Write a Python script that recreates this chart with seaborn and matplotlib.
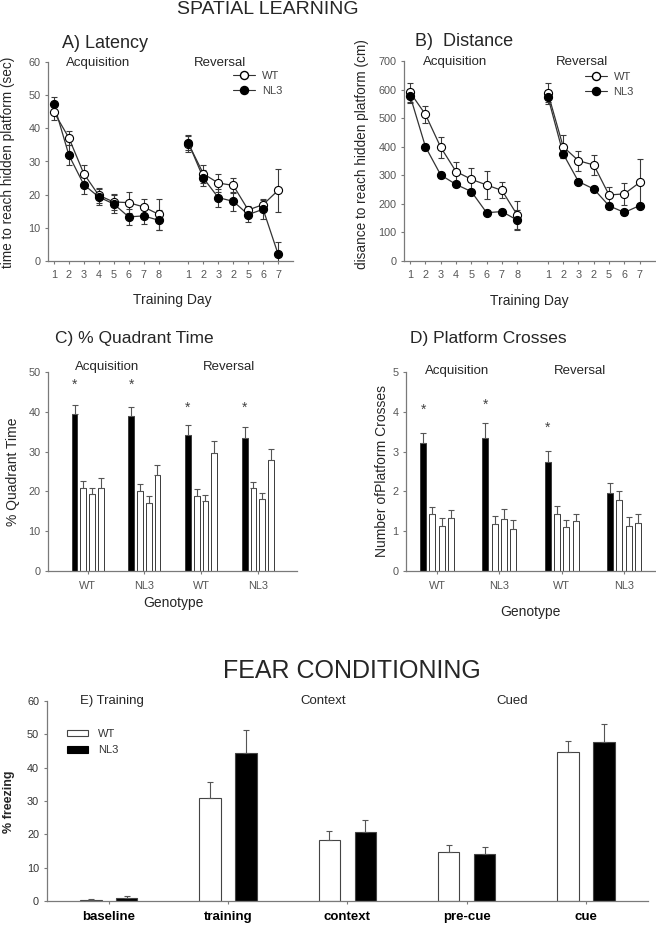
import numpy as np
import pandas as pd
import matplotlib
matplotlib.use("Agg")
import matplotlib.pyplot as plt
import seaborn as sns
from matplotlib.lines import Line2D
from matplotlib.patches import Patch

# ------------------------------------------------------------------ data
acq_days = [1, 2, 3, 4, 5, 6, 7, 8]
rev_days = [1, 2, 3, 4, 5, 6, 7]
acq_day_labels = ["1", "2", "3", "4", "5", "6", "7", "8"]
rev_day_labels = ["1", "2", "3", "2", "5", "6", "7"]  # as printed in the original

lat_wt_acq = [44.9, 37.1, 26.3, 19.8, 17.8, 17.6, 16.3, 14.1]
lat_wt_acq_err = [2.3, 2.0, 2.5, 2.2, 2.5, 3.2, 2.5, 4.7]
lat_nl3_acq = [47.2, 31.9, 23.0, 19.3, 17.2, 13.3, 13.6, 12.3]
lat_nl3_acq_err = [2.2, 3.0, 2.7, 2.5, 2.8, 2.3, 2.3, 3.0]
lat_wt_rev = [35.4, 26.3, 23.5, 22.8, 15.4, 17.0, 21.3]
lat_wt_rev_err = [2.5, 2.7, 2.6, 2.2, 1.2, 1.5, 6.5]
lat_nl3_rev = [35.6, 25.0, 19.1, 18.0, 14.0, 15.6, 2.1]
lat_nl3_rev_err = [2.2, 2.5, 2.7, 2.8, 2.2, 3.0, 3.6]

dist_wt_acq = [590, 513, 398, 313, 286, 266, 247, 161]
dist_wt_acq_err = [32, 30, 37, 35, 38, 49, 28, 50]
dist_nl3_acq = [578, 400, 301, 268, 243, 169, 173, 143]
dist_nl3_acq_err = [25, 10, 10, 10, 10, 8, 8, 35]
dist_wt_rev = [589, 400, 351, 336, 231, 235, 275]
dist_wt_rev_err = [33, 40, 35, 35, 28, 38, 83]
dist_nl3_rev = [575, 375, 278, 252, 193, 170, 194]
dist_nl3_rev_err = [25, 15, 10, 10, 10, 8, 10]

genotype_labels = ["WT", "NL3", "WT", "NL3"]

quad_target = [39.4, 38.9, 34.2, 33.5]
quad_target_err = [2.3, 2.4, 2.5, 2.6]
quad_other1 = [20.8, 20.0, 18.8, 20.8]
quad_other1_err = [1.9, 1.8, 1.7, 1.6]
quad_other2 = [19.3, 17.2, 17.7, 18.0]
quad_other2_err = [1.5, 1.6, 1.5, 1.7]
quad_other3 = [20.8, 24.0, 29.6, 27.9]
quad_other3_err = [2.5, 2.7, 3.1, 2.8]
quad_star_y = [46.7, 46.7, 41.0, 41.0]

cross_target = [3.21, 3.34, 2.73, 1.97]
cross_target_err = [0.26, 0.37, 0.28, 0.25]
cross_other1 = [1.44, 1.18, 1.42, 1.79]
cross_other1_err = [0.17, 0.20, 0.21, 0.22]
cross_other2 = [1.13, 1.30, 1.10, 1.13]
cross_other2_err = [0.19, 0.27, 0.19, 0.23]
cross_other3 = [1.32, 1.06, 1.25, 1.21]
cross_other3_err = [0.22, 0.23, 0.17, 0.21]
cross_star_y = [4.05, 4.17, 3.61]

fc_phases = ["baseline", "training", "context", "pre-cue", "cue"]
fc_wt = [0.2, 31.0, 18.4, 14.8, 44.8]
fc_wt_err = [0.3, 4.6, 2.6, 2.0, 3.1]
fc_nl3 = [0.8, 44.3, 20.8, 14.2, 47.7]
fc_nl3_err = [0.6, 6.9, 3.6, 1.9, 5.5]

# ------------------------------------------------------------------ style
sns.set_style("ticks")
plt.rcParams["font.family"] = ["Liberation Sans", "DejaVu Sans"]
AX_COL = "#7a7a7a"
TICK_COL = "#555555"
plt.rcParams.update({
    "axes.edgecolor": AX_COL,
    "axes.linewidth": 0.9,
    "xtick.color": AX_COL,
    "ytick.color": AX_COL,
    "xtick.labelcolor": TICK_COL,
    "ytick.labelcolor": TICK_COL,
    "xtick.labelsize": 7.8,
    "ytick.labelsize": 7.8,
    "xtick.major.size": 2.5,
    "ytick.major.size": 2.5,
    "xtick.major.width": 0.8,
    "ytick.major.width": 0.8,
    "xtick.major.pad": 4,
    "ytick.major.pad": 3,
})

W, H = 656, 926
fig = plt.figure(figsize=(W / 100, H / 100), dpi=100)


def rect(l, t, r, b):
    return [l / W, 1 - b / H, (r - l) / W, (b - t) / H]


def ftext(x, y, s, **kw):
    fig.text(x / W, 1 - y / H, s, **kw)


def style_axes(ax):
    sns.despine(ax=ax)


# ------------------------------------------------------------------ line panels
def line_panel(ax, wa, wae, na, nae, wr, wre, nr, nre, ylim, ystep):
    rows = []
    for geno, a, ae, r, re_ in [("WT", wa, wae, wr, wre), ("NL3", na, nae, nr, nre)]:
        for d, v, e in zip(acq_days, a, ae):
            rows.append(dict(pos=d, value=v, err=e, genotype=geno, phase="acq"))
        for d, v, e in zip(rev_days, r, re_):
            rows.append(dict(pos=d + 9, value=v, err=e, genotype=geno, phase="rev"))
    df = pd.DataFrame(rows)
    for geno in ["WT", "NL3"]:
        sub = df[df.genotype == geno]
        ax.errorbar(sub.pos, sub.value, yerr=sub.err, fmt="none", ecolor="#3a3a3a",
                    elinewidth=0.8, capsize=2.2, capthick=0.8, zorder=1)
    sns.lineplot(data=df, x="pos", y="value", hue="genotype", units="phase",
                 estimator=None, palette={"WT": "#333333", "NL3": "#333333"},
                 linewidth=0.9, legend=False, ax=ax, zorder=2)
    sns.scatterplot(data=df[df.genotype == "WT"], x="pos", y="value", color="white",
                    edgecolor="black", s=34, linewidth=0.8, ax=ax, zorder=3, legend=False)
    sns.scatterplot(data=df[df.genotype == "NL3"], x="pos", y="value", color="black",
                    edgecolor="black", s=34, linewidth=0.8, ax=ax, zorder=4, legend=False)
    ax.set_xlim(0.6, 17)
    ax.set_ylim(*ylim)
    ax.set_yticks(np.arange(ylim[0], ylim[1] + 1e-9, ystep))
    ax.set_xticks(acq_days + [d + 9 for d in rev_days])
    ax.set_xticklabels(acq_day_labels + rev_day_labels)
    ax.set_xlabel("")
    ax.set_ylabel("")
    style_axes(ax)


def line_legend(ax, x, y):
    h = [Line2D([], [], color="#333333", lw=0.8, marker="o", mfc="white", mec="black", ms=5.8),
         Line2D([], [], color="#333333", lw=0.8, marker="o", mfc="black", mec="black", ms=5.8)]
    ax.legend(h, ["WT", "NL3"], loc="upper left", bbox_to_anchor=(x, y), frameon=False,
              fontsize=8, handlelength=2.0, handletextpad=0.6, labelspacing=0.45,
              borderaxespad=0, borderpad=0, labelcolor="#444444")


axA = fig.add_axes(rect(48, 62, 293, 261))
line_panel(axA, lat_wt_acq, lat_wt_acq_err, lat_nl3_acq, lat_nl3_acq_err,
           lat_wt_rev, lat_wt_rev_err, lat_nl3_rev, lat_nl3_rev_err, (0, 60), 10)
line_legend(axA, 0.755, 0.955)

axB = fig.add_axes(rect(404, 61, 655, 261))
line_panel(axB, dist_wt_acq, dist_wt_acq_err, dist_nl3_acq, dist_nl3_acq_err,
           dist_wt_rev, dist_wt_rev_err, dist_nl3_rev, dist_nl3_rev_err, (0, 700), 100)
line_legend(axB, 0.72, 0.945)


# ------------------------------------------------------------------ bar panels C, D
def bar_panel(ax, series, gap, ylim, ystep, xlim):
    rows = []
    for g in range(4):
        for b, (vals, errs) in enumerate(series):
            rows.append(dict(pos=g * gap + b, value=vals[g], err=errs[g],
                             kind="target" if b == 0 else "other"))
    df = pd.DataFrame(rows)
    sns.barplot(data=df, x="pos", y="value", hue="kind",
                palette={"target": "black", "other": "white"}, native_scale=True,
                dodge=False, width=0.65, edgecolor="#3a3a3a", linewidth=0.7,
                errorbar=None, legend=False, ax=ax)
    ax.errorbar(df.pos, df.value, yerr=[np.zeros(len(df)), df.err], fmt="none",
                ecolor="#555555", elinewidth=0.8, capsize=2.0, capthick=0.8, zorder=3)
    ax.set_xlim(*xlim)
    ax.set_ylim(*ylim)
    ax.set_yticks(np.arange(ylim[0], ylim[1] + 1e-9, ystep))
    ax.set_xticks([g * gap + 1.5 for g in range(4)])
    ax.set_xticklabels(genotype_labels)
    ax.tick_params(axis="x", pad=5)
    ax.set_xlabel("")
    ax.set_ylabel("")
    style_axes(ax)
    return gap


axC = fig.add_axes(rect(48, 372, 297, 571))
gapC = bar_panel(axC, [(quad_target, quad_target_err), (quad_other1, quad_other1_err),
                       (quad_other2, quad_other2_err), (quad_other3, quad_other3_err)],
                 6.5, (0, 50), 10, (-3.05, 25.5))
for g, sy in enumerate(quad_star_y):
    axC.text(g * gapC, sy, "*", ha="center", va="center", fontsize=10, color="#444444")

axD = fig.add_axes(rect(406, 372, 655, 571))
gapD = bar_panel(axD, [(cross_target, cross_target_err), (cross_other1, cross_other1_err),
                       (cross_other2, cross_other2_err), (cross_other3, cross_other3_err)],
                 6.7, (0, 5), 1, (-1.83, 24.93))
for g, sy in enumerate(cross_star_y):
    axD.text(g * gapD, sy, "*", ha="center", va="center", fontsize=10, color="#444444")

# ------------------------------------------------------------------ panel E
axE = fig.add_axes(rect(46.7, 701, 648, 901))
rows = []
for p, a, ae, b, be in zip(fc_phases, fc_wt, fc_wt_err, fc_nl3, fc_nl3_err):
    rows.append(dict(phase=p, genotype="WT", value=a, err=ae))
    rows.append(dict(phase=p, genotype="NL3", value=b, err=be))
dfE = pd.DataFrame(rows)
sns.barplot(data=dfE, x="phase", y="value", hue="genotype", order=fc_phases,
            hue_order=["WT", "NL3"], palette={"WT": "white", "NL3": "black"},
            width=0.6, gap=0.4, edgecolor="#444444", linewidth=0.8, errorbar=None,
            legend=False, ax=axE)
idx = np.arange(len(fc_phases))
axE.errorbar(idx - 0.15, fc_wt, yerr=[np.zeros(len(idx)), fc_wt_err], fmt="none",
             ecolor="#555555", elinewidth=0.8, capsize=2.0, capthick=0.8, zorder=3)
axE.errorbar(idx + 0.15, fc_nl3, yerr=[np.zeros(len(idx)), fc_nl3_err], fmt="none",
             ecolor="#555555", elinewidth=0.8, capsize=2.0, capthick=0.8, zorder=3)
axE.set_xlim(-0.52, 4.52)
axE.set_ylim(0, 60)
axE.set_yticks(np.arange(0, 61, 10))
axE.set_xlabel("")
axE.set_ylabel("")
axE.tick_params(axis="x", labelsize=9.5, labelcolor="black", pad=4.5)
for t in axE.get_xticklabels():
    t.set_fontweight("bold")
axE.tick_params(axis="y", labelcolor="#333333")
style_axes(axE)
hE = [Patch(facecolor="white", edgecolor="#444444", lw=0.8),
      Patch(facecolor="black", edgecolor="black", lw=0.8)]
axE.legend(hE, ["WT", "NL3"], loc="upper left", bbox_to_anchor=(0.034, 0.86), frameon=False,
           fontsize=8, handlelength=1.9, handleheight=0.55, handletextpad=0.9,
           labelspacing=0.55, borderaxespad=0, borderpad=0, labelcolor="#333333")

# ------------------------------------------------------------------ texts
ftext(268, 9, "SPATIAL LEARNING", ha="center", va="center", fontsize=14)
ftext(62, 43, "A) Latency", ha="left", va="center", fontsize=13)
ftext(415, 42, "B)  Distance", ha="left", va="center", fontsize=13)
ftext(98, 63, "Acquisition", ha="center", va="center", fontsize=9.5)
ftext(220, 63, "Reversal", ha="center", va="center", fontsize=9.5)
ftext(455, 62, "Acquisition", ha="center", va="center", fontsize=9.5)
ftext(582, 62, "Reversal", ha="center", va="center", fontsize=9.5)
ftext(8, 162, "time to reach hidden platform (sec)", ha="center", va="center",
      rotation=90, fontsize=9.8)
ftext(362, 154, "disance to reach hidden platform (cm)", ha="center", va="center",
      rotation=90, fontsize=9.8)
ftext(172, 300, "Training Day", ha="center", va="center", fontsize=10)
ftext(529, 301, "Training Day", ha="center", va="center", fontsize=10)

ftext(55, 339, "C) % Quadrant Time", ha="left", va="center", fontsize=12.5)
ftext(410, 338, "D) Platform Crosses", ha="left", va="center", fontsize=12.5)
ftext(107, 367, "Acquisition", ha="center", va="center", fontsize=9.5)
ftext(229, 367, "Reversal", ha="center", va="center", fontsize=9.5)
ftext(457, 371, "Acquisition", ha="center", va="center", fontsize=9.5)
ftext(580, 371, "Reversal", ha="center", va="center", fontsize=9.5)
ftext(13, 472, "% Quadrant Time", ha="center", va="center", rotation=90, fontsize=10)
ftext(382, 471, "Number ofPlatform Crosses", ha="center", va="center", rotation=90,
      fontsize=10)
ftext(173, 603, "Genotype", ha="center", va="center", fontsize=10)
ftext(530, 612, "Genotype", ha="center", va="center", fontsize=10)

ftext(352, 671, "FEAR CONDITIONING", ha="center", va="center", fontsize=18)
ftext(80, 701, "E) Training", ha="left", va="center", fontsize=9.5)
ftext(323, 701, "Context", ha="center", va="center", fontsize=9.5)
ftext(512, 701, "Cued", ha="center", va="center", fontsize=9.5)
ftext(9, 802, "% freezing", ha="center", va="center", rotation=90, fontsize=9,
      fontweight="bold")

fig.savefig("out.png", dpi=100)
